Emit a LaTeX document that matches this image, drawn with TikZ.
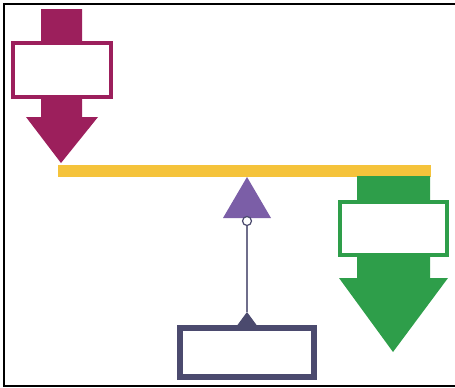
\documentclass[tikz,border=0pt]{standalone}
\definecolor{magentaA}{HTML}{9C1F5C}
\definecolor{yellowA}{HTML}{F5C33B}
\definecolor{greenA}{HTML}{2E9E4A}
\definecolor{purpleA}{HTML}{7B5EA7}
\definecolor{slateA}{HTML}{4B4A6E}
\begin{document}
\begin{tikzpicture}[x=1pt,y=-1pt,
  labelbox/.style={draw,fill=white,line width=3.5pt,inner sep=0pt},
]
\useasboundingbox (0,0) rectangle (455,388);
% frame
\draw[line width=2pt] (455,4) -- (4,4) -- (4,386) -- (455,386);
% yellow beam
\fill[yellowA] (58,165) rectangle (431,176.5);
% magenta arrow
\fill[magentaA] (41,9) -- (82,9) -- (82,117) -- (98,117) -- (61,163) -- (26,117) -- (41,117) -- cycle;
\node[labelbox,draw=magentaA,minimum width=98pt,minimum height=54pt] (mbox) at (62,70) {};
% green arrow
\fill[greenA] (357,176) -- (430,176) -- (430,278) -- (448,278) -- (393,352) -- (339,278) -- (357,278) -- cycle;
\node[labelbox,draw=greenA,minimum width=107pt,minimum height=53pt] (gbox) at (393.5,228.5) {};
% fulcrum
\fill[purpleA] (247,177) -- (271,218) -- (223,218) -- cycle;
\coordinate (tip) at (247,177);
% bottom box
\node[labelbox,draw=slateA,line width=5.5pt,minimum width=134pt,minimum height=49pt] (sbox) at (247,352.5) {};
\fill[slateA] (247,312) -- (258,327) -- (236,327) -- cycle;
\coordinate (stip) at (247,312);
\node[circle,draw=slateA,fill=white,line width=1.2pt,minimum size=9pt,inner sep=0pt] (pin) at (247,221) {};
\draw[slateA!80,line width=1.3pt] (pin) -- (stip);
\end{tikzpicture}
\end{document}
